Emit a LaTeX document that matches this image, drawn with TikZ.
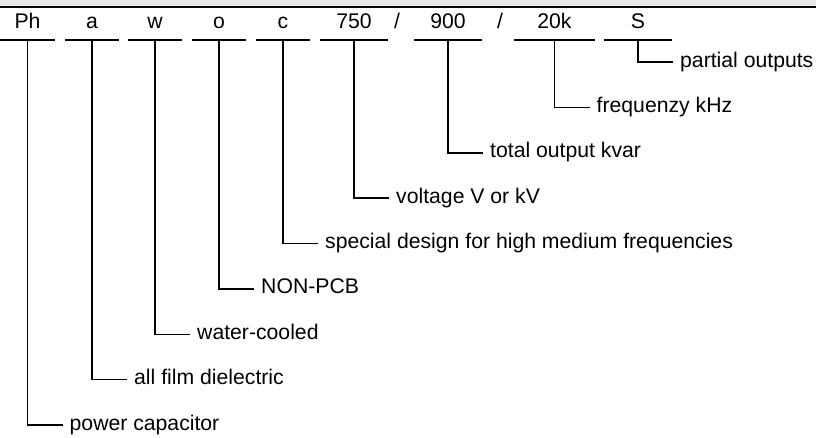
\documentclass[tikz,border=0pt]{standalone}
\usepackage{fontspec}
\setmainfont{Liberation Sans}
\usetikzlibrary{positioning}
\definecolor{CodeBand}{RGB}{232,232,232}

\begin{document}
\begin{tikzpicture}[x=1pt,y=-1pt,
  code/.style={font=\fontsize{21.2}{25}\selectfont,minimum width=#1,inner xsep=0pt,inner ysep=0pt,
    text height=14pt,text depth=11pt,anchor=south},
  lbl/.style={font=\fontsize{21.2}{25}\selectfont,anchor=west,inner xsep=7pt,inner ysep=0pt,
    text height=14pt,text depth=4pt},
  uline/.style={line width=1.5pt},
  lead/.style={line width=1.5pt}]
  \useasboundingbox (0,0) rectangle (816,437);
  \fill[CodeBand] (0,0) rectangle (816,6);
  \draw[line width=2pt] (0,6.5) -- (816,6.5);

  % type code
  \node[code=55pt] (ph) at (27.5,40) {Ph};
  \node[code=54pt] (a) at (92,40) {a};
  \node[code=54pt] (w) at (155,40) {w};
  \node[code=54pt] (o) at (219,40) {o};
  \node[code=54pt] (c) at (283,40) {c};
  \node[code=68pt] (volt) at (354,40) {750};
  \node[code=10pt] (sl1) at (397,40) {/};
  \node[code=68pt] (kvar) at (448,40) {900};
  \node[code=10pt] (sl2) at (500,40) {/};
  \node[code=81pt] (freq) at (554.5,40) {20k};
  \node[code=68pt] (s) at (638,40) {S};
  \foreach \n in {ph,a,w,o,c,volt,kvar,freq,s}
    \draw[uline] (\n.south west) -- (\n.south east);

  % meanings
  \node[lbl] (ls) at (673,62) {partial outputs};
  \node[lbl] (lfreq) at (589.5,107.4) {frequenzy kHz};
  \node[lbl] (lkvar) at (483,152.8) {total output kvar};
  \node[lbl] (lvolt) at (389,198.1) {voltage V or kV};
  \node[lbl] (lc) at (318,243.5) {special design for high medium frequencies};
  \node[lbl] (lo) at (254,288.9) {NON-PCB};
  \node[lbl] (lw) at (190,334.3) {water-cooled};
  \node[lbl] (la) at (127,379.6) {all film dielectric};
  \node[lbl] (lph) at (62.5,425) {power capacitor};

  \draw[lead] (s.south) |- (ls.west);
  \draw[lead] (freq.south) |- (lfreq.west);
  \draw[lead] (kvar.south) |- (lkvar.west);
  \draw[lead] (volt.south) |- (lvolt.west);
  \draw[lead] (c.south) |- (lc.west);
  \draw[lead] (o.south) |- (lo.west);
  \draw[lead] (w.south) |- (lw.west);
  \draw[lead] (a.south) |- (la.west);
  \draw[lead] (ph.south) |- (lph.west);
\end{tikzpicture}
\end{document}
